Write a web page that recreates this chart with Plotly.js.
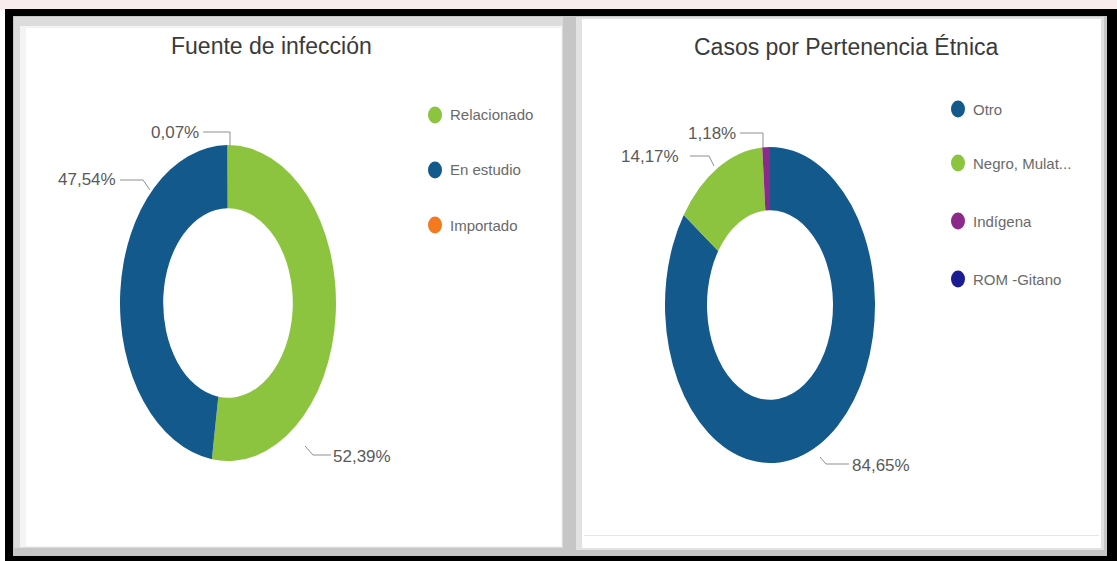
<!DOCTYPE html>
<html><head><meta charset="utf-8">
<script src="https://cdn.plot.ly/plotly-3.0.1.min.js"></script>
<style>
html,body{margin:0;padding:0;width:1117px;height:561px;overflow:hidden;background:#fff;}
#base{position:absolute;left:0;top:0;width:1117px;height:561px;}
.pie{position:absolute;}
</style></head><body>
<div id="base"></div>
<div id="pie1" class="pie"></div>
<div id="pie2" class="pie"></div>
<script>
// ---- data ----
const fuenteTitle = 'Fuente de infección';
const fuenteLabels = ['Relacionado', 'En estudio', 'Importado'];
const fuenteValues = [52.39, 47.54, 0.07];
const fuenteColors = ['#8cc43f', '#13598c', '#f47a20'];

const etniaTitle = 'Casos por Pertenencia Étnica';
const etniaLabels = ['Otro', 'Negro, Mulato, Afrocolombiano', 'Indígena', 'ROM -Gitano'];
const etniaLegend = ['Otro', 'Negro, Mulat...', 'Indígena', 'ROM -Gitano'];
const etniaValues = [84.65, 14.17, 1.18, 0.00];
const etniaColors = ['#13598c', '#8cc43f', '#8c2a8c', '#1b1b92'];

const fmt = v => v.toFixed(2).replace('.', ',') + '%';

// ---- page helpers ----
const W = 1117, H = 561;
const X = x => x / W, Y = y => 1 - y / H;
function rect(x0, y0, x1, y1, fill) {
  return {type: 'rect', xref: 'paper', yref: 'paper', x0: X(x0), x1: X(x1), y0: Y(y1), y1: Y(y0),
          fillcolor: fill, line: {width: 0}, layer: 'below'};
}
function poly(pts) {
  return {type: 'path', xref: 'paper', yref: 'paper',
          path: pts.map((p, i) => (i ? 'L' : 'M') + X(p[0]) + ',' + Y(p[1])).join(' '),
          line: {color: '#8f8f8f', width: 1}, layer: 'above'};
}
function dot(cx, cy, color) {
  return {type: 'circle', xref: 'paper', yref: 'paper', x0: X(cx - 7), x1: X(cx + 7), y0: Y(cy + 8.5), y1: Y(cy - 8.5),
          fillcolor: color, line: {width: 0}, layer: 'above'};
}
function txt(x, y, text, size, color, anchor) {
  return {xref: 'paper', yref: 'paper', x: X(x), y: Y(y), text: text, showarrow: false,
          xanchor: anchor || 'center', yanchor: 'middle',
          font: {family: 'Liberation Sans, Arial, sans-serif', size: size, color: color}};
}

const shapes = [
  rect(0, 0, 1117, 10, '#f8eced'),
  rect(5, 9, 1117, 561, '#000000'),
  rect(13, 16, 1107, 556, '#c6c6c6'),
  rect(14, 17, 563, 548, '#dcdcdc'),
  rect(20, 26, 562, 547, '#f4f4f4'),
  rect(26, 28, 561, 546, '#ffffff'),
  rect(576, 17, 1104, 550, '#e2e2e2'),
  rect(582, 19, 1101, 548, '#ffffff'),
  rect(584, 535, 1099, 536, '#e6e6e6')
];

// leader lines
shapes.push(poly([[203, 132], [230, 132], [230, 146]]));
shapes.push(poly([[120, 180], [143, 180], [150, 190]]));
shapes.push(poly([[305, 446], [313, 455], [331, 455]]));
shapes.push(poly([[740, 133], [763, 133], [763, 148]]));
shapes.push(poly([[690, 156], [709, 156], [714, 166]]));
shapes.push(poly([[820, 457], [826, 464], [849, 464]]));

const annotations = [
  txt(271, 46, fuenteTitle, 23, '#3a3a3a'),
  txt(846, 47, etniaTitle, 23, '#3a3a3a'),
  txt(175, 132, fmt(fuenteValues[2]), 17, '#5a5a5a'),
  txt(87, 180, fmt(fuenteValues[1]), 17, '#5a5a5a'),
  txt(362, 456, fmt(fuenteValues[0]), 17, '#5a5a5a'),
  txt(712, 133, fmt(etniaValues[2]), 17, '#5a5a5a'),
  txt(650, 156, fmt(etniaValues[1]), 17, '#5a5a5a'),
  txt(881, 465, fmt(etniaValues[0]), 17, '#5a5a5a')
];

// legends
const leg1Y = [115, 170, 225];
fuenteLabels.forEach((l, i) => {
  shapes.push(dot(435, leg1Y[i], fuenteColors[i]));
  annotations.push(txt(448, leg1Y[i], l, 15, '#6a6a6a', 'left'));
});
const leg2Y = [109, 163, 221, 279];
etniaLegend.forEach((l, i) => {
  shapes.push(dot(958, leg2Y[i], etniaColors[i]));
  annotations.push(txt(971, leg2Y[i], l, 15, '#6a6a6a', 'left'));
});

Plotly.newPlot('base', [], {
  width: W, height: H, margin: {l: 0, r: 0, t: 0, b: 0},
  paper_bgcolor: '#ffffff', plot_bgcolor: '#ffffff',
  xaxis: {visible: false}, yaxis: {visible: false},
  shapes: shapes, annotations: annotations, showlegend: false
}, {staticPlot: true, displayModeBar: false});

// ---- donuts (drawn round by Plotly, stretched vertically like the screenshot) ----
function donut(id, labels, values, colors, cx, cy, rx, ry) {
  const d = 2 * rx;
  const el = document.getElementById(id);
  el.style.left = (cx - rx) + 'px';
  el.style.top = (cy - rx) + 'px';
  el.style.width = d + 'px';
  el.style.height = d + 'px';
  el.style.transformOrigin = '50% 50%';
  el.style.transform = 'scaleY(' + (ry / rx) + ')';
  Plotly.newPlot(el, [{
    type: 'pie', labels: labels, values: values,
    marker: {colors: colors, line: {width: 0}},
    hole: 0.6, sort: false, direction: 'clockwise', rotation: 0,
    textinfo: 'none', hoverinfo: 'none'
  }], {
    width: d, height: d, margin: {l: 0, r: 0, t: 0, b: 0},
    paper_bgcolor: 'rgba(0,0,0,0)', showlegend: false
  }, {staticPlot: true, displayModeBar: false});
}
donut('pie1', fuenteLabels, fuenteValues, fuenteColors, 228, 303, 108, 158);
donut('pie2', etniaLabels, etniaValues, etniaColors, 770, 305, 105, 158);
</script>
</body></html>
